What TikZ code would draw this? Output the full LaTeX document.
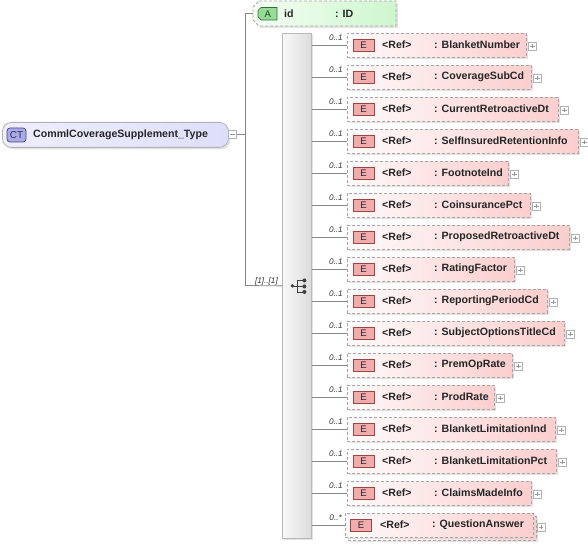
\documentclass[tikz,border=0pt]{standalone}
\usepackage{fontspec}
\setmainfont{Liberation Sans}
\usetikzlibrary{shadows}
\definecolor{conncol}{RGB}{135,135,135}
\definecolor{dashcol}{RGB}{165,165,165}
\definecolor{pinkL}{RGB}{250,206,206}
\definecolor{pinkR}{RGB}{255,250,250}
\definecolor{eiconF}{RGB}{243,172,172}
\definecolor{eiconD}{RGB}{150,70,70}
\definecolor{ctL}{RGB}{222,222,252}
\definecolor{ctR}{RGB}{238,238,252}
\definecolor{ctIcon}{RGB}{170,170,230}
\definecolor{ctIconD}{RGB}{70,70,130}
\definecolor{attL}{RGB}{206,246,206}
\definecolor{attR}{RGB}{244,255,244}
\definecolor{attIcon}{RGB}{150,220,150}
\definecolor{attIconD}{RGB}{50,110,50}
\definecolor{seqL}{RGB}{220,220,220}
\definecolor{seqR}{RGB}{248,248,248}
\tikzset{
  conn/.style={draw=conncol, line width=0.8pt},
  shd/.style={drop shadow={shadow xshift=2pt, shadow yshift=-2pt, fill=black!18, opacity=0.6}},
  % note: y axis is flipped, so left/right colours are given swapped
  ebox/.style={shd, draw=dashcol, dash pattern=on 3pt off 2pt, line width=0.8pt,
    left color=pinkR, right color=pinkL, minimum height=24pt, inner sep=0pt, anchor=north west},
  eicon/.style={draw=eiconD, line width=0.7pt, fill=eiconF,
    minimum width=21pt, minimum height=12pt, inner sep=0pt,
    font=\fontsize{9.5}{10}\selectfont, text=black!85},
  lbl/.style={inner sep=0pt, anchor=west, font=\fontsize{10.6}{12}\selectfont\bfseries, text=black!85},
  occ/.style={inner sep=0pt, font=\fontsize{8.2}{9}\selectfont\itshape, text=black!80},
  plusbox/.style={draw=gray!60, fill=white, line width=0.6pt, minimum size=8pt, inner sep=0pt,
    path picture={
      \draw[gray!80, line width=0.6pt] ([xshift=1.8pt]path picture bounding box.west) -- ([xshift=-1.8pt]path picture bounding box.east);
      \draw[gray!80, line width=0.6pt] ([yshift=-1.8pt]path picture bounding box.north) -- ([yshift=1.8pt]path picture bounding box.south);}},
  minusbox/.style={draw=gray!60, fill=white, line width=0.6pt, minimum size=8pt, inner sep=0pt,
    path picture={
      \draw[gray!80, line width=0.6pt] ([xshift=1.8pt]path picture bounding box.west) -- ([xshift=-1.8pt]path picture bounding box.east);}},
  seqbox/.style={shd, draw=gray!55, line width=0.8pt, left color=seqR, right color=seqL,
    minimum width=29pt, minimum height=505pt, inner sep=0pt, anchor=north west},
  ctbox/.style={shd, draw=gray!60, line width=0.8pt, rounded corners=9pt, left color=ctR, right color=ctL,
    minimum width=226pt, minimum height=25pt, inner sep=0pt, anchor=north west},
  cticon/.style={draw=ctIconD, line width=0.7pt, rounded corners=3pt, fill=ctIcon,
    minimum width=19pt, minimum height=14pt, inner sep=0pt, font=\fontsize{10}{11}\selectfont, text=ctIconD!70!black},
  seqdot/.style={fill=black!75, draw=none},
}
\begin{document}
\begin{tikzpicture}[x=1pt,y=-1pt]
\useasboundingbox (0,0) rectangle (588,545);

% complex type box
\node[ctbox] (ct) at (2,122) {};
\node[cticon] (cti) at (16.5,135) {CT};
\node[lbl] (ctt) at (33,134.5) {CommlCoverageSupplement\_Type};
\node[minusbox] (ctm) at (232.5,134.5) {};

% attribute
\path[shd, draw=dashcol, dash pattern=on 3pt off 2pt, line width=0.8pt, left color=attR, right color=attL]
  (259,1) -- (396,1) -- (396,26) -- (259,26) -- (253,20) -- (253,7) -- cycle;
\coordinate (attr) at (253,13.5);
\path[draw=attIconD, line width=0.7pt, fill=attIcon] (261,7.5) -- (277,7.5) -- (277,20) -- (261,20) -- (258,17) -- (258,10.5) -- cycle;
\node[inner sep=0pt, font=\fontsize{9.5}{10}\selectfont, text=attIconD!60!black] (atti) at (267.8,14.2) {A};
\node[lbl] (attn) at (284,13.5) {id};
\node[lbl] (attt) at (335,13.5) {: ID};

% sequence
\node[seqbox] (seq) at (282,33) {};
\coordinate (jt) at (245,13.5);
\coordinate (jm) at (245,134.5);
\coordinate (jb) at (245,285.5);
\draw[conn] (ctm.east) -- (jm);
\draw[conn] (jt) -- (jb);
\draw[conn] (jt) -- (attr);
\draw[conn] (jb) -- (seq.west);
\node[occ, anchor=base east] (seqocc) at (278,283) {[1]..[1]};

% sequence icon
\begin{scope}[shift={(seq.center)}]
  \draw[black!75, line width=0.8pt] (-4.5,0) -- (0.5,0);
  \draw[black!75, line width=0.8pt] (0.5,-5.5) -- (0.5,6);
  \draw[black!75, line width=0.8pt] (0.5,-5.5) -- (7.5,-5.5) (0.5,0.5) -- (7.5,0.5) (0.5,6) -- (7.5,6);
  \fill[seqdot] (-4.5,0) circle[radius=1.9pt];
  \fill[seqdot] (7.5,-5.5) circle[radius=2pt] (7.5,0.5) circle[radius=2pt] (7.5,6) circle[radius=2pt];
\end{scope}

% elements
\foreach \k/\nm/\r in {0/BlanketNumber/526, 1/CoverageSubCd/531, 2/CurrentRetroactiveDt/558,
  3/SelfInsuredRetentionInfo/578, 4/FootnoteInd/508, 5/CoinsurancePct/530,
  6/ProposedRetroactiveDt/569, 7/RatingFactor/514, 8/ReportingPeriodCd/547,
  9/SubjectOptionsTitleCd/564, 10/PremOpRate/512, 11/ProdRate/494,
  12/BlanketLimitationInd/555, 13/BlanketLimitationPct/556, 14/ClaimsMadeInfo/531}{
  \pgfmathsetmacro\t{33+32*\k}
  \pgfmathsetmacro\c{45+32*\k}
  \pgfmathsetmacro\w{\r-347}
  \pgfmathsetmacro\px{\r+6.5}
  \pgfmathsetmacro\py{\c+1}
  \node[ebox, minimum width=\w pt] (e\k) at (347,\t) {};
  \node[eicon] (i\k) at (363.5,\c) {E};
  \node[lbl] (r\k) at (382,\c) {<Ref>};
  \node[lbl] (n\k) at (434,\c) {: \nm};
  \node[plusbox] (p\k) at (\px,\py) {};
  \draw[conn] (seq.east |- e\k.west) -- (e\k.west);
  \node[occ, anchor=base east] (o\k) at ([shift={(-4pt,5pt)}]e\k.west) {0..1};
}

% last element, multiple occurrences
\node[ebox, minimum width=188pt] (e15b) at (348,516) {};
\node[ebox, minimum width=188pt] (e15) at (345,513) {};
\node[eicon] (i15) at (361,525) {E};
\node[lbl] (r15) at (380,525) {<Ref>};
\node[lbl] (n15) at (432,525) {: QuestionAnswer};
\node[plusbox] (p15) at (541,527) {};
\draw[conn] (seq.east |- e15.west) -- (e15.west);
\node[occ, anchor=base east] (o15) at ([shift={(-3pt,5pt)}]e15.west) {0..*};
\end{tikzpicture}
\end{document}
